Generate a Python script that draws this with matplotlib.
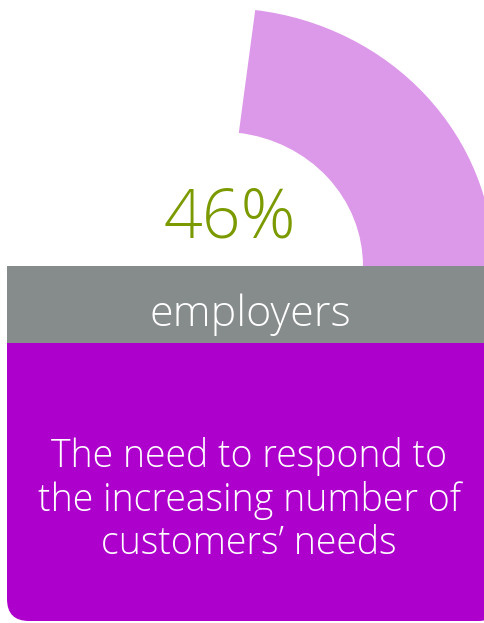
import matplotlib
matplotlib.use("Agg")
import matplotlib.pyplot as plt
from matplotlib.patches import Rectangle, FancyBboxPatch

# Data
share_pct = 46
share_label = "46%"
group_label = "employers"
statement = "The need to respond to\nthe increasing number of\ncustomers\u2019 needs"

# Colours
arc_color = "#dd99e9"
bar_color = "#868b8c"
box_color = "#ad00cc"
pct_color = "#7b9a00"

W, H = 484, 623
fig = plt.figure(figsize=(W / 100, H / 100), dpi=100)
fig.patch.set_facecolor("white")

# Half-gauge: semicircle (lower half hidden), filled share of 180 degrees
cx, cy, rx, ry = 221, 266, 273, 258
gax = fig.add_axes([(cx - rx) / W, (H - (cy + ry)) / H, 2 * rx / W, 2 * ry / H])
gax.pie([share_pct, 100 - share_pct, 100], startangle=0, counterclock=True,
        colors=[arc_color, "none", "none"], radius=1,
        wedgeprops=dict(width=0.48, linewidth=0))
gax.set_aspect("auto")
gax.set_xlim(-1, 1)
gax.set_ylim(-1, 1)
gax.axis("off")

# Overlay in pixel coordinates
ax = fig.add_axes([0, 0, 1, 1])
ax.set_xlim(0, W)
ax.set_ylim(H, 0)
ax.axis("off")
ax.patch.set_alpha(0)

ax.add_patch(FancyBboxPatch((7, 300), 493, 321, boxstyle="round,pad=0,rounding_size=22",
                            facecolor=box_color, edgecolor="none", zorder=1))
ax.add_patch(Rectangle((7, 266), 480, 77, facecolor=bar_color, edgecolor="none", zorder=2))

font = ["Open Sans", "DejaVu Sans"]
ax.text(230, 220, share_label, color=pct_color, fontsize=49, fontweight="light",
        family=font, ha="center", va="center", zorder=3)
ax.text(250, 315, group_label, color="white", fontsize=31, fontweight="light",
        family=font, ha="center", va="center", zorder=3)
ax.text(249, 500, statement, color="white", fontsize=27, fontweight="light",
        family=font, ha="center", va="center", linespacing=1.15, zorder=3)

fig.savefig("out.png", dpi=100, facecolor="white")
